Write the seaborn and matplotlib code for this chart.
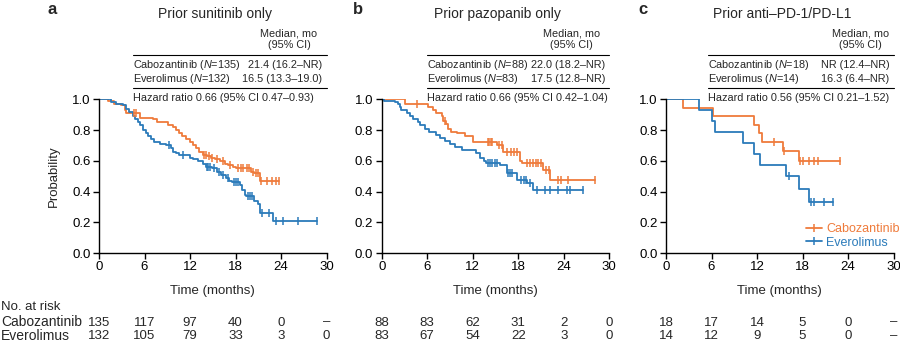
import numpy as np
import matplotlib
matplotlib.use('Agg')
import matplotlib.pyplot as plt
import seaborn as sns
from matplotlib.lines import Line2D

# ----------------------------
# data
# ----------------------------
titles = ['Prior sunitinib only', 'Prior pazopanib only', 'Prior anti\u2013PD-1/PD-L1']
letters = ['a', 'b', 'c']
cabo_n = [135, 88, 18]
evero_n = [132, 83, 14]
cabo_median = ['21.4 (16.2\u2013NR)', '22.0 (18.2\u2013NR)', 'NR (12.4\u2013NR)']
evero_median = ['16.5 (13.3\u201319.0)', '17.5 (12.8\u2013NR)', '16.3 (6.4\u2013NR)']
hr_text = ['Hazard ratio 0.66 (95% CI 0.47\u20130.93)',
           'Hazard ratio 0.66 (95% CI 0.42\u20131.04)',
           'Hazard ratio 0.56 (95% CI 0.21\u20131.52)']

# panel a: prior sunitinib
a_cabo_t = [1.2, 2.0, 2.9, 3.4, 3.6, 5.4, 7.1, 7.6, 9.1, 9.8, 10.2, 10.6, 11.0, 11.5, 12.0, 12.4,
            12.8, 13.2, 13.7, 14.3, 14.8, 15.3, 15.9, 16.6, 17.0, 17.7, 18.1, 20.1, 20.5, 21.2]
a_cabo_s = [0.99, 0.97, 0.96, 0.93, 0.91, 0.88, 0.87, 0.85, 0.83, 0.82, 0.80, 0.78, 0.76, 0.74, 0.72, 0.70,
            0.68, 0.66, 0.64, 0.63, 0.62, 0.61, 0.60, 0.58, 0.57, 0.56, 0.55, 0.53, 0.52, 0.47]
a_cabo_c = [4.6, 4.9, 13.9, 14.1, 14.5, 14.9, 15.6, 16.3, 17.3, 18.3, 18.7, 19.0, 19.5, 19.8, 20.3,
            20.7, 21.0, 21.4, 22.1, 22.8, 23.3, 23.8]
a_evero_t = [1.6, 2.3, 3.2, 3.6, 4.0, 4.5, 4.8, 5.1, 5.4, 5.8, 6.2, 6.5, 6.9, 7.3, 8.0, 8.9, 9.5, 9.8,
             10.2, 10.6, 12.0, 12.4, 13.1, 13.7, 14.1, 14.9, 15.5, 16.1, 16.8, 17.2, 17.6, 18.6, 18.8,
             19.2, 19.4, 20.5, 21.0, 21.2, 22.9]
a_evero_s = [0.98, 0.97, 0.96, 0.94, 0.92, 0.89, 0.87, 0.85, 0.83, 0.80, 0.78, 0.76, 0.74, 0.72, 0.71,
             0.70, 0.68, 0.66, 0.65, 0.64, 0.62, 0.61, 0.60, 0.58, 0.56, 0.55, 0.53, 0.51, 0.49, 0.47,
             0.46, 0.44, 0.41, 0.38, 0.37, 0.34, 0.32, 0.26, 0.21]
a_evero_c = [9.2, 11.1, 14.2, 14.4, 14.6, 15.1, 15.8, 16.4, 17.0, 17.8, 18.0, 18.3, 19.6, 19.9, 20.2,
             21.5, 22.4, 23.3, 24.3, 26.2, 28.8]

# panel b: prior pazopanib
b_cabo_t = [3.1, 6.1, 6.8, 7.2, 7.9, 8.1, 8.5, 8.7, 9.2, 9.9, 11.0, 12.0, 15.2, 16.0, 18.2, 18.5,
            21.3, 22.2]
b_cabo_s = [0.97, 0.95, 0.93, 0.91, 0.89, 0.86, 0.84, 0.81, 0.79, 0.78, 0.76, 0.72, 0.70, 0.66, 0.60,
            0.585, 0.54, 0.475]
b_cabo_c = [4.7, 8.3, 14.0, 14.2, 14.4, 14.6, 15.5, 15.8, 16.5, 17.0, 17.4, 17.8, 19.2, 19.6, 19.9,
            20.3, 20.6, 21.0, 21.7, 22.0, 23.3, 23.6, 24.6, 28.1]
b_evero_t = [0.3, 1.8, 2.2, 2.4, 2.6, 3.3, 3.7, 4.1, 4.8, 5.1, 5.7, 6.2, 7.2, 7.7, 8.3, 9.0, 9.7,
             10.6, 12.5, 12.9, 13.5, 13.8, 15.6, 16.5, 17.9, 19.1, 20.0]
b_evero_s = [0.99, 0.98, 0.97, 0.95, 0.93, 0.91, 0.89, 0.87, 0.85, 0.83, 0.81, 0.79, 0.77, 0.75, 0.73,
             0.71, 0.69, 0.67, 0.65, 0.62, 0.60, 0.585, 0.57, 0.52, 0.475, 0.455, 0.41]
b_evero_c = [14.0, 14.3, 14.6, 14.9, 15.2, 16.7, 16.9, 17.2, 18.4, 18.7, 19.0, 19.5, 20.5, 21.5, 22.2,
             23.3, 24.4, 24.8, 26.6]

# panel c: prior anti-PD-1/PD-L1
c_cabo_t = [2.3, 6.2, 11.6, 12.2, 12.6, 15.4, 17.5]
c_cabo_s = [0.944, 0.889, 0.833, 0.778, 0.722, 0.662, 0.596]
c_cabo_c = [14.3, 15.5, 17.7, 18.0, 18.9, 19.5, 20.1, 22.9]
c_evero_t = [4.3, 6.05, 6.5, 10.2, 11.6, 12.4, 15.8, 17.5, 18.9]
c_evero_s = [0.929, 0.857, 0.786, 0.714, 0.643, 0.571, 0.5, 0.417, 0.333]
c_evero_c = [16.2, 19.1, 19.5, 20.9, 22.0]

cabo_curves = [(a_cabo_t, a_cabo_s, a_cabo_c), (b_cabo_t, b_cabo_s, b_cabo_c), (c_cabo_t, c_cabo_s, c_cabo_c)]
evero_curves = [(a_evero_t, a_evero_s, a_evero_c), (b_evero_t, b_evero_s, b_evero_c),
                (c_evero_t, c_evero_s, c_evero_c)]

risk_times = [0, 6, 12, 18, 24, 30]
cabo_risk = [['135', '117', '97', '40', '0', '\u2013'],
             ['88', '83', '62', '31', '2', '0'],
             ['18', '17', '14', '5', '0', '\u2013']]
evero_risk = [['132', '105', '79', '33', '3', '0'],
              ['83', '67', '54', '22', '3', '0'],
              ['14', '12', '9', '5', '0', '\u2013']]

ORANGE = '#EF7B3B'
BLUE = '#2B7BBA'

# ----------------------------
# style
# ----------------------------
sns.set_style('ticks')
plt.rcParams['font.family'] = ['Liberation Sans', 'DejaVu Sans']
plt.rcParams['mathtext.fontset'] = 'custom'
plt.rcParams['mathtext.rm'] = 'Liberation Sans'
plt.rcParams['mathtext.it'] = 'Liberation Sans:italic'

W, H = 900, 343
fig = plt.figure(figsize=(9, 3.43), dpi=100)
lefts = [99, 381.7, 666]
table_x0 = [0.149, 0.199, 0.185]
TFS = 7.8  # table font size
ROW1, ROW2 = 322.5, 336.0  # pixel rows of the at-risk table


def yfrac(px):
    # axes fraction from a pixel row (axes: 99.3..253 px)
    return (253 - px) / 153.7


def step_xy(times, surv, cens):
    end = max(times[-1], cens[-1]) if cens else times[-1]
    xs = [0.0] + list(times) + [end]
    ys = [1.0] + list(surv) + [surv[-1]]
    return np.array(xs), np.array(ys)


def censor_y(times, surv, cens):
    idx = np.searchsorted(np.array(times), np.array(cens), side='right')
    levels = np.array([1.0] + list(surv))
    return levels[idx]


for i, left in enumerate(lefts):
    ax = fig.add_axes([left / W, 90 / H, 227.5 / W, 153.7 / H])

    for (t, s, c), col in [(cabo_curves[i], ORANGE), (evero_curves[i], BLUE)]:
        xs, ys = step_xy(t, s, c)
        sns.lineplot(x=xs, y=ys, drawstyle='steps-post', color=col, lw=1.3,
                     estimator=None, sort=False, ax=ax)
        sns.scatterplot(x=c, y=censor_y(t, s, c), marker='|', s=30, linewidth=1.1,
                        color=col, ax=ax, zorder=3)

    ax.set_xlim(0, 30)
    ax.set_ylim(0, 1)
    ax.set_xticks(range(0, 31, 6))
    ax.set_yticks(np.arange(0, 1.01, 0.2))
    ax.set_yticklabels([f'{v:.1f}' for v in np.arange(0, 1.01, 0.2)])
    ax.tick_params(labelsize=9.5, length=4, width=1, pad=2, colors='black')
    for sp in ['left', 'bottom']:
        ax.spines[sp].set_linewidth(1)
        ax.spines[sp].set_color('black')
    sns.despine(ax=ax)
    ax.margins(0)
    ax.set_xlabel('Time (months)', fontsize=9.5)
    ax.xaxis.set_label_coords(0.5, -0.205)
    if i == 0:
        ax.set_ylabel('Probability', fontsize=9.5, labelpad=9)
    else:
        ax.set_ylabel('')

    # title and panel letter
    ax.text(0.51, yfrac(14), titles[i], transform=ax.transAxes, ha='center', va='center',
            fontsize=10)
    fig.text([52, 358, 643][i] / W, 1 - 13.5 / H, letters[i], fontsize=12, fontweight='bold',
             ha='center', va='baseline')

    # median table
    x0 = table_x0[i]
    col_c = 0.835 if i < 2 else 0.855
    ax.text(col_c, yfrac(33), 'Median, mo', transform=ax.transAxes, ha='center', va='center',
            fontsize=TFS)
    ax.text(col_c, yfrac(45), '(95% CI)', transform=ax.transAxes, ha='center', va='center',
            fontsize=TFS)
    for yy in [55, 88]:
        ax.plot([x0, 1.0], [yfrac(yy)] * 2, transform=ax.transAxes, clip_on=False,
                color='black', lw=0.8)
    ax.text(x0, yfrac(64.5), f'Cabozantinib ($N$={cabo_n[i]})', transform=ax.transAxes,
            ha='left', va='center', fontsize=TFS)
    ax.text(x0, yfrac(78.5), f'Everolimus ($N$={evero_n[i]})', transform=ax.transAxes,
            ha='left', va='center', fontsize=TFS)
    ax.text(0.982, yfrac(64.5), cabo_median[i], transform=ax.transAxes, ha='right', va='center',
            fontsize=TFS)
    ax.text(0.982, yfrac(78.5), evero_median[i], transform=ax.transAxes, ha='right', va='center',
            fontsize=TFS)
    ax.text(x0, yfrac(98), hr_text[i], transform=ax.transAxes, ha='left', va='center',
            fontsize=TFS)

    # number at risk
    tr = ax.get_xaxis_transform()
    for t, n1, n2 in zip(risk_times, cabo_risk[i], evero_risk[i]):
        ax.text(t, yfrac(ROW1), n1, transform=tr, ha='center', va='center', fontsize=9.5,
                clip_on=False)
        ax.text(t, yfrac(ROW2), n2, transform=tr, ha='center', va='center', fontsize=9.5,
                clip_on=False)

    if i == 2:
        handles = [Line2D([], [], color=ORANGE, lw=1.3, marker='|', ms=6, mew=1.1),
                   Line2D([], [], color=BLUE, lw=1.3, marker='|', ms=6, mew=1.1)]
        ax.legend(handles, ['Cabozantinib', 'Everolimus'], loc='lower right',
                  bbox_to_anchor=(1.065, -0.03), frameon=False, fontsize=9,
                  handlelength=1.3, handletextpad=0.3, labelspacing=0.15,
                  labelcolor='linecolor', borderpad=0.2)

fig.text(1 / W, 1 - 307.5 / H, 'No. at risk', ha='left', va='center', fontsize=9.5)
fig.text(1 / W, 1 - ROW1 / H, 'Cabozantinib', ha='left', va='center', fontsize=10)
fig.text(1 / W, 1 - ROW2 / H, 'Everolimus', ha='left', va='center', fontsize=10)

plt.savefig('out.png', dpi=100)
